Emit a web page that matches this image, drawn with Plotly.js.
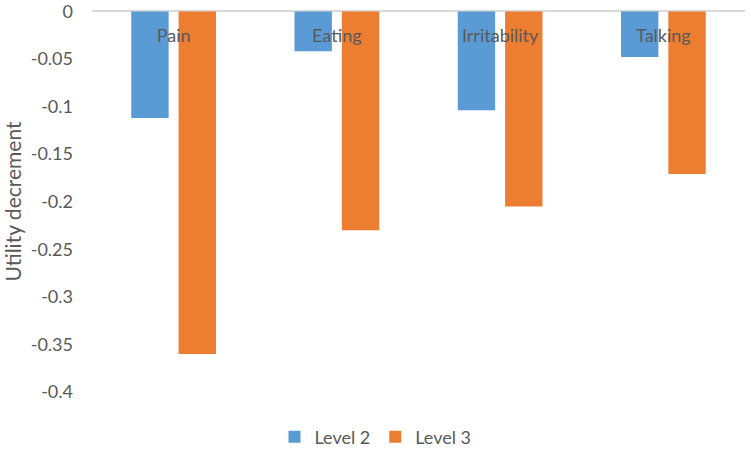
<!DOCTYPE html>
<html><head><meta charset="utf-8">
<script src="https://cdn.plot.ly/plotly-3.0.1.min.js"></script>
<style>body{margin:0;padding:0;background:#fff}#chart{width:751px;height:450px}</style>
</head><body><div id="chart"></div>
<script>
var categories = ["Pain", "Eating", "Irritability", "Talking"];
var level2 = [-0.112, -0.042, -0.104, -0.048];
var level3 = [-0.36, -0.23, -0.205, -0.171];
var yTicks = [0, -0.05, -0.1, -0.15, -0.2, -0.25, -0.3, -0.35, -0.4];
var yTickText = ["0", "-0.05", "-0.1", "-0.15", "-0.2", "-0.25", "-0.3", "-0.35", "-0.4"];

var font = "Lato, 'Open Sans', sans-serif";
var data = [
  {type: "bar", name: "Level 2", x: categories, y: level2, marker: {color: "#5B9BD5"}},
  {type: "bar", name: "Level 3", x: categories, y: level3, marker: {color: "#ED7D31"}}
];
var layout = {
  width: 751, height: 450,
  margin: {l: 92, r: 6, t: 11, b: 58},
  paper_bgcolor: "#fff", plot_bgcolor: "#fff",
  barmode: "group", bargap: 0.42, bargroupgap: 0.21,
  font: {family: font, color: "#595959", size: 18},
  xaxis: {anchor: "free", position: 0.974, side: "bottom", ticks: "", ticklabelstandoff: 2,
          showline: false, showgrid: false, zeroline: false,
          tickfont: {size: 18, color: "#595959"}},
  yaxis: {range: [-0.4, 0.0004], tickvals: yTicks, ticktext: yTickText, showgrid: false,
          zeroline: true, zerolinecolor: "#D9D9D9", zerolinewidth: 2,
          showline: false, ticks: "", ticklabelstandoff: 18, ticklabeloverflow: "allow",
          tickfont: {size: 18, color: "#595959"},
          title: {text: "Utility decrement", font: {size: 21, color: "#595959"}, standoff: 10}},
  legend: {orientation: "h", xref: "container", yref: "container", x: 0.5, xanchor: "center",
           y: 0.029, yanchor: "middle", font: {size: 18, color: "#595959"}, itemwidth: 30},
  showlegend: true
};
Plotly.newPlot("chart", data, layout, {displayModeBar: false, staticPlot: true});
</script></body></html>
